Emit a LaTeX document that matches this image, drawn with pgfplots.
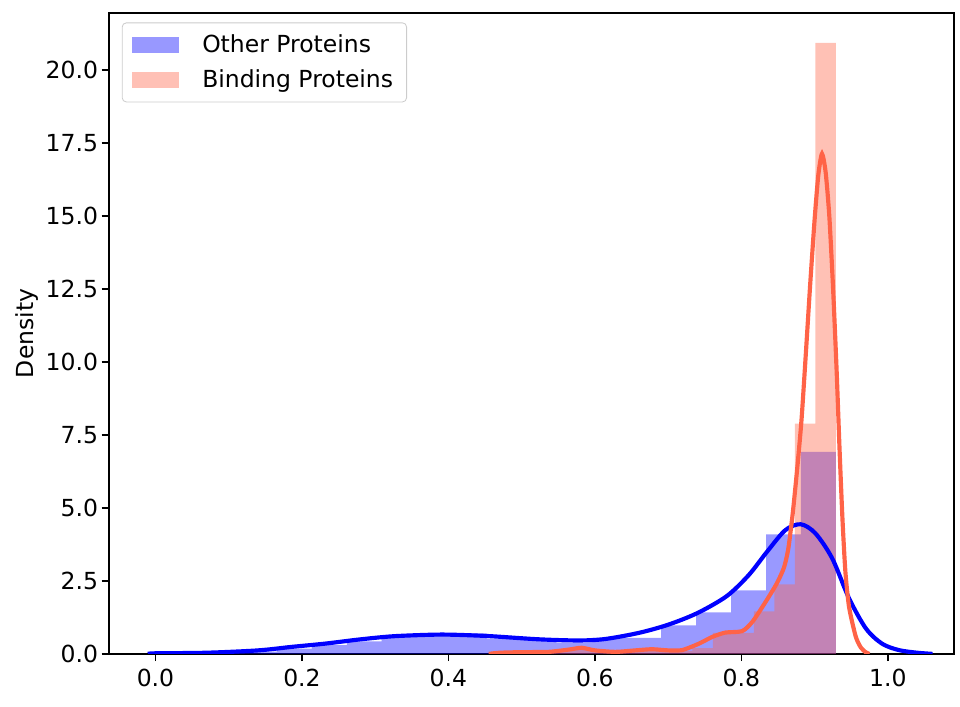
\documentclass[border=0pt]{standalone}
\usepackage{fontspec}
\setmainfont{DejaVu Sans}
\setsansfont{DejaVu Sans}
\usepackage{pgfplots}
\pgfplotsset{compat=1.18}
\definecolor{tomato}{RGB}{255,99,71}
\definecolor{pureblue}{RGB}{0,0,255}

\begin{document}
\fontsize{11.3}{13.6}\selectfont
\begin{tikzpicture}
\begin{axis}[
    scale only axis,
    width=5.627in, height=4.267in,
    xmin=-0.0637, xmax=1.0905,
    ymin=0, ymax=21.96,
    xtick={0,0.2,0.4,0.6,0.8,1.0},
    ytick={0,2.5,5,7.5,10,12.5,15,17.5,20},
    xticklabel style={/pgf/number format/.cd, fixed, fixed zerofill, precision=1},
    yticklabel style={inner xsep=1.5pt, /pgf/number format/.cd, fixed, fixed zerofill, precision=1},
    /pgf/number format/assume math mode=true,
    tick align=outside,
    xtick pos=bottom, ytick pos=left,
    major tick length=3.5pt,
    tick style={black, line width=0.8pt},
    axis line style={black, line width=0.8pt},
    ylabel={Density},
    ylabel style={yshift=-2pt},
    legend cell align=left,
    legend style={at={(0.0154,0.985)}, anchor=north west,
        draw=black!20, rounded corners=2pt, fill=white, fill opacity=0.8, text opacity=1,
        inner xsep=4.5pt, inner ysep=3.5pt, row sep=2.5pt},
]
% Other Proteins histogram (left edges, density)
\addplot[ybar interval, fill=pureblue, fill opacity=0.4, draw=none,
    legend image code/.code={\fill[pureblue, fill opacity=0.4, sharp corners] (0pt,-4pt) rectangle (23pt,4pt);
        \path (0pt,0pt) (32pt,0pt);}]
coordinates {
    (0.0227,0.01) (0.0704,0.03) (0.1181,0.08) (0.1658,0.18) (0.2135,0.30)
    (0.2612,0.43) (0.3089,0.63) (0.3566,0.68) (0.4043,0.70) (0.4520,0.52)
    (0.4997,0.52) (0.5474,0.39) (0.5951,0.55) (0.6428,0.55) (0.6905,0.98)
    (0.7382,1.42) (0.7859,2.18) (0.8336,4.09) (0.8813,6.92) (0.9290,0)
};
\addlegendentry{Other Proteins}
% Binding Proteins histogram
\addplot[ybar interval, fill=tomato, fill opacity=0.4, draw=none,
    legend image code/.code={\fill[tomato, fill opacity=0.4, sharp corners] (0pt,-4pt) rectangle (23pt,4pt);
        \path (0pt,0pt) (32pt,0pt);}]
coordinates {
    (0.481,0.07) (0.509,0.07) (0.537,0.10) (0.565,0.20) (0.593,0.10)
    (0.621,0.07) (0.649,0.10) (0.677,0.15) (0.705,0.10) (0.733,0.20)
    (0.761,0.72) (0.789,0.72) (0.817,1.46) (0.845,2.38) (0.873,7.89)
    (0.901,20.93) (0.929,0)
};
\addlegendentry{Binding Proteins}
% KDE curves
\addplot[pureblue, line width=2pt, smooth, tension=0.5, forget plot] coordinates {
    (-0.010,0.00) (0.000,0.02) (0.070,0.04) (0.140,0.12) (0.186,0.24)
    (0.231,0.35) (0.277,0.49) (0.322,0.60) (0.368,0.65) (0.400,0.66)
    (0.455,0.61) (0.523,0.50) (0.578,0.46) (0.614,0.51) (0.660,0.72)
    (0.700,1.00) (0.740,1.40) (0.780,1.98) (0.810,2.70) (0.835,3.50)
    (0.860,4.24) (0.881,4.44) (0.901,4.13) (0.924,3.27) (0.947,1.90)
    (0.970,0.87) (0.992,0.35) (1.015,0.13) (1.040,0.04) (1.061,0.00)
};
\addplot[tomato, line width=2pt, smooth, tension=0.4, forget plot] coordinates {
    (0.455,0.00) (0.470,0.04) (0.500,0.06) (0.537,0.07) (0.565,0.15)
    (0.582,0.21) (0.600,0.12) (0.628,0.07) (0.655,0.12) (0.678,0.16)
    (0.700,0.12) (0.719,0.13) (0.742,0.35) (0.760,0.58) (0.778,0.73)
    (0.801,0.78) (0.815,1.10) (0.833,1.78) (0.848,2.40) (0.858,2.95)
    (0.864,3.60) (0.870,4.80) (0.876,6.30) (0.882,8.00) (0.888,10.3)
    (0.894,12.7) (0.900,14.9) (0.905,16.4) (0.910,17.13) (0.915,16.5)
    (0.920,15.0) (0.925,12.6) (0.930,9.7) (0.934,7.0) (0.938,4.6)
    (0.942,2.8) (0.947,1.6) (0.956,0.60) (0.963,0.22) (0.970,0.05)
    (0.975,0.00)
};
\end{axis}
% outer padding, as in the reference
\path ([shift={(-3.8pt,-5.5pt)}]current bounding box.south west);
\path ([shift={(2.4pt,5.76pt)}]current bounding box.north east);
\end{tikzpicture}
\end{document}
